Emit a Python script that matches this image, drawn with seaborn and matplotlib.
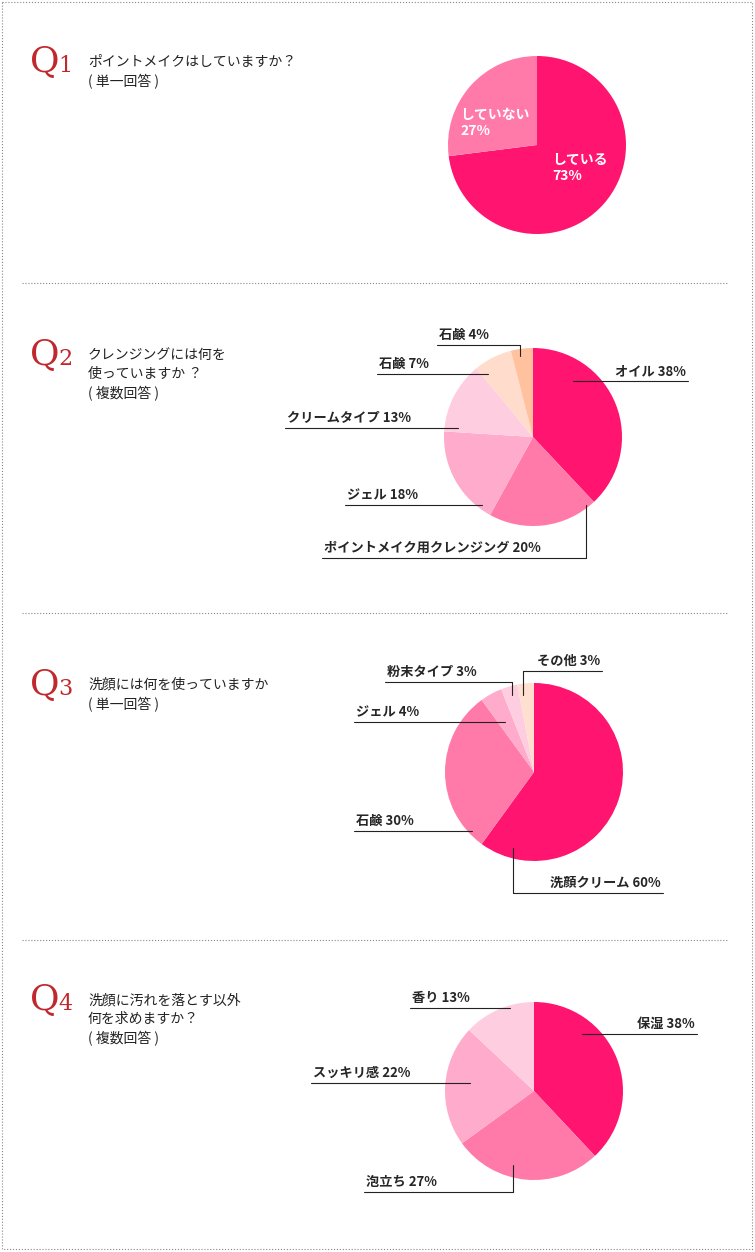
import matplotlib.pyplot as plt
import seaborn as sns

sns.set_theme(style="white")
plt.rcParams["font.family"] = "Noto Sans CJK JP"

DEEP, MID, LIGHT, PALE = "#ff1470", "#ff7aa8", "#ffabcb", "#ffcde0"

# data
q1_labels = ["している", "していない"]
q1_values = [73, 27]
q2_labels = ["オイル", "ポイントメイク用クレンジング", "ジェル", "クリームタイプ", "石鹸", "石鹸"]
q2_values = [38, 20, 18, 13, 7, 4]
q3_labels = ["洗顔クリーム", "石鹸", "ジェル", "粉末タイプ", "その他"]
q3_values = [60, 30, 4, 3, 3]
q4_labels = ["保湿", "泡立ち", "スッキリ感", "香り"]
q4_values = [38, 27, 22, 13]
questions = ["ポイントメイクはしていますか？\n( 単一回答 )",
             "クレンジングには何を\n使っていますか ？\n( 複数回答 )",
             "洗顔には何を使っていますか\n( 単一回答 )",
             "洗顔に汚れを落とす以外\n何を求めますか？\n( 複数回答 )"]

W, H = 755, 1252
fig = plt.figure(figsize=(W / 100, H / 100), dpi=100)
ax = fig.add_axes([0, 0, 1, 1])

def pie(center, values, colors):
    # y axis is inverted afterwards, so this draws clockwise from 12 o'clock
    ax.pie(values, colors=colors, center=center, radius=89, startangle=-90,
           counterclock=True, wedgeprops=dict(linewidth=0), frame=True)

pie((537, 145), q1_values, [DEEP, MID])
pie((533, 437), q2_values, [DEEP, MID, LIGHT, PALE, "#ffdccc", "#ffc19e"])
pie((534, 772), q3_values, [DEEP, MID, LIGHT, PALE, "#ffdfcf"])
pie((534, 1091), q4_values, [DEEP, MID, LIGHT, PALE])
ax.set_xlim(0, W)
ax.set_ylim(H, 0)
ax.set_aspect("equal")
ax.axis("off")

# border and separators
ax.plot([2, W - 3, W - 3, 2, 2], [2, 2, H - 3, H - 3, 2], ls=":", color="#888", lw=0.8)
for y in [283, 613, 940]:
    ax.plot([22, 727], [y, y], ls=":", color="#888", lw=0.8)

# question headings
for (qy, txt, n) in zip([62, 355, 685, 1000], questions, range(1, 5)):
    ax.text(30, qy, "Q", color="#c0282d", fontsize=26, family="DejaVu Serif", va="center")
    ax.text(58, qy + 4, str(n), color="#c0282d", fontsize=16, family="DejaVu Serif", va="center")
    ax.text(88, qy - 7, txt, fontsize=10, va="top", linespacing=1.45, color="#222")

ax.text(460, 123, f"{q1_labels[1]}\n{q1_values[1]}%", color="white", fontsize=10,
        weight="bold", va="center", linespacing=1.1)
ax.text(552, 168, f"{q1_labels[0]}\n{q1_values[0]}%", color="white", fontsize=10,
        weight="bold", va="center", linespacing=1.1)

def callout(label, val, x0, x1, y, align, path=None):
    tx = x1 - 2 if align == "right" else x0 + 2
    ax.text(tx, y - 3, f"{label} {val}%", ha=align, va="bottom", fontsize=9.5, weight="bold")
    ax.plot([x0, x1], [y, y], color="#222", lw=0.8)
    if path:
        ax.plot(path[0], path[1], color="#222", lw=0.8)

# Q2 callouts
callout(q2_labels[0], q2_values[0], 573, 688, 381, "right")
callout(q2_labels[1], q2_values[1], 322, 586, 558, "left", ([586, 586], [505, 558]))
callout(q2_labels[2], q2_values[2], 345, 482, 505, "left")
callout(q2_labels[3], q2_values[3], 285, 458, 428, "left")
callout(q2_labels[4], q2_values[4], 377, 488, 374, "left")
callout(q2_labels[5], q2_values[5], 437, 520, 345, "left", ([520, 520], [345, 356]))
# Q3 callouts
callout(q3_labels[4], q3_values[4], 523, 602, 671, "right", ([523, 523], [671, 695]))
callout(q3_labels[3], q3_values[3], 385, 512, 682, "left", ([512, 512], [682, 695]))
callout(q3_labels[2], q3_values[2], 354, 505, 722, "left")
callout(q3_labels[1], q3_values[1], 354, 472, 831, "left")
callout(q3_labels[0], q3_values[0], 513, 663, 893, "right", ([513, 513], [848, 893]))
# Q4 callouts
callout(q4_labels[0], q4_values[0], 582, 697, 1034, "right")
callout(q4_labels[3], q4_values[3], 410, 510, 1008, "left")
callout(q4_labels[2], q4_values[2], 311, 470, 1083, "left")
callout(q4_labels[1], q4_values[1], 364, 513, 1192, "left", ([513, 513], [1165, 1192]))

fig.savefig("out.png", dpi=100)
